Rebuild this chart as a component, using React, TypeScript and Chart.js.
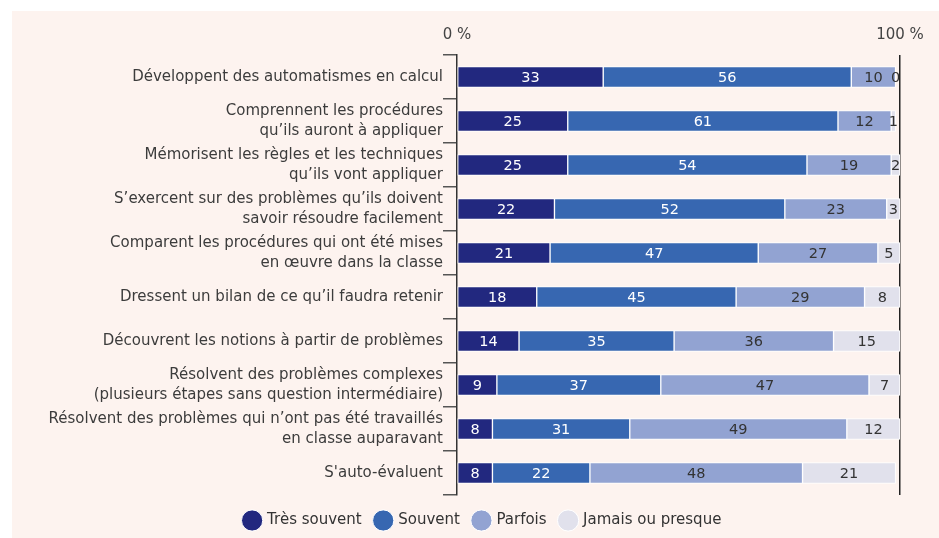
import React, { useEffect, useRef } from "react";
import { Chart, registerables } from "chart.js";

Chart.register(...registerables);

const categories: (string | string[])[] = [
  "Développent des automatismes en calcul",
  ["Comprennent les procédures", "qu’ils auront à appliquer"],
  ["Mémorisent les règles et les techniques", "qu’ils vont appliquer"],
  ["S’exercent sur des problèmes qu’ils doivent", "savoir résoudre facilement"],
  ["Comparent les procédures qui ont été mises", "en œuvre dans la classe"],
  "Dressent un bilan de ce qu’il faudra retenir",
  "Découvrent les notions à partir de problèmes",
  ["Résolvent des problèmes complexes", "(plusieurs étapes sans question intermédiaire)"],
  ["Résolvent des problèmes qui n’ont pas été travaillés", "en classe auparavant"],
  "S'auto-évaluent",
];

const seriesNames = ["Très souvent", "Souvent", "Parfois", "Jamais ou presque"];
const tresSouvent = [33, 25, 25, 22, 21, 18, 14, 9, 8, 8];
const souvent = [56, 61, 54, 52, 47, 45, 35, 37, 31, 22];
const parfois = [10, 12, 19, 23, 27, 29, 36, 47, 49, 48];
const jamais = [0, 1, 2, 3, 5, 8, 15, 7, 12, 21];
const xTicks = [0, 100];

const colors = ["#22287f", "#3767b1", "#92a3d2", "#e1e1ec"];
const labelColors = ["#ffffff", "#ffffff", "#333333", "#333333"];
const FONT = "'DejaVu Sans', sans-serif";

const valueLabels = {
  id: "valueLabels",
  afterDatasetsDraw(chart: any) {
    const ctx = chart.ctx;
    ctx.save();
    ctx.font = `14.5px ${FONT}`;
    ctx.textAlign = "center";
    ctx.textBaseline = "middle";
    chart.data.datasets.forEach((ds: any, di: number) => {
      const meta = chart.getDatasetMeta(di);
      meta.data.forEach((el: any, i: number) => {
        const v = ds.data[i];
        ctx.fillStyle = labelColors[di];
        ctx.fillText(String(v), (el.x + el.base) / 2, el.y + 1);
      });
    });
    ctx.restore();
  },
};

const legendShift = {
  id: "legendShift",
  afterLayout(chart: any) {
    const lg = chart.legend;
    if (!lg) return;
    lg.left += 27;
    lg.right += 27;
    lg.top += 4;
    lg.bottom += 4;
  },
};

export default function App() {
  const ref = useRef<HTMLCanvasElement | null>(null);
  useEffect(() => {
    if (!ref.current) return;
    const all = [tresSouvent, souvent, parfois, jamais];
    const chart = new Chart(ref.current, {
      type: "bar",
      data: {
        labels: categories,
        datasets: all.map((d, i) => ({
          label: seriesNames[i],
          data: d,
          backgroundColor: colors[i],
          borderColor: "#ffffff",
          borderWidth: 1,
          borderSkipped: false,
          barThickness: 21,
        })),
      },
      options: {
        indexAxis: "y",
        animation: false,
        responsive: true,
        maintainAspectRatio: false,
        layout: { padding: { left: 0, right: 39, top: 4, bottom: 4 } },
        plugins: {
          tooltip: { enabled: false },
          legend: {
            position: "bottom",
            labels: {
              usePointStyle: true,
              pointStyle: "circle",
              boxWidth: 15,
              boxHeight: 15,
              padding: 14,
              color: "#333333",
              font: { family: FONT, size: 15 },
            },
          },
        },
        scales: {
          x: {
            position: "top",
            stacked: true,
            min: 0,
            max: 100,
            afterBuildTicks: (s: any) => {
              s.ticks = xTicks.map((v) => ({ value: v }));
            },
            ticks: {
              color: "#444444",
              font: { family: FONT, size: 15 },
              padding: 11,
              callback: (v: any) => `${v} %`,
            },
            grid: {
              drawTicks: false,
              lineWidth: 1.5,
              color: (c: any) => (c.tick && c.tick.value === 100 ? "#222222" : "rgba(0,0,0,0)"),
            },
            border: { display: false },
          },
          y: {
            stacked: true,
            afterFit: (s: any) => {
              s.width = 445;
            },
            ticks: {
              color: "#3c3c3c",
              font: { family: FONT, size: 15, lineHeight: 1.33 },
              padding: 0,
            },
            grid: {
              drawOnChartArea: false,
              drawTicks: true,
              tickLength: 14,
              color: "#555555",
              lineWidth: 1.5,
            },
            border: { display: true, color: "#333333", width: 1.5 },
          },
        },
      },
      plugins: [valueLabels, legendShift],
    } as any);
    return () => chart.destroy();
  }, []);

  return (
    <div
      style={{
        position: "fixed",
        left: 12,
        top: 11,
        width: 927,
        height: 527,
        background: "#fdf3ef",
      }}
    >
      <canvas ref={ref} />
    </div>
  );
}
